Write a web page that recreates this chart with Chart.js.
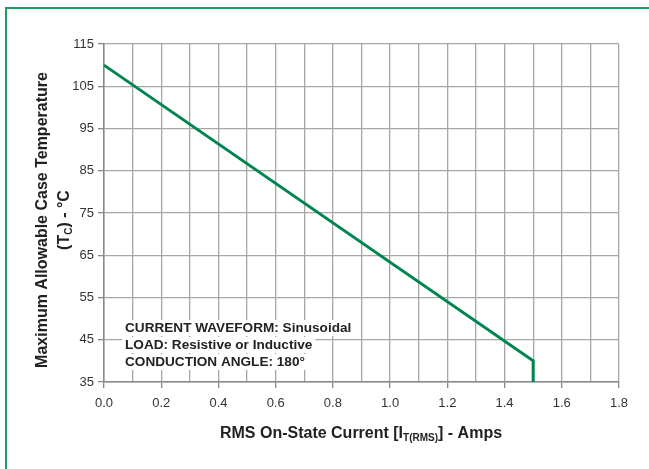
<!DOCTYPE html>
<html>
<head>
<meta charset="utf-8">
<script src="https://cdn.jsdelivr.net/npm/chart.js@4.4.1/dist/chart.umd.min.js"></script>
<style>
    body { margin: 0; background: #fff; }
    #wrap { position: relative; width: 649px; height: 469px; overflow: hidden; }
    #frame { position: absolute; left: 5px; top: 7px; width: 700px; height: 520px; border: 2px solid #1f9a62; }
    canvas { position: absolute; left: 0; top: 0; }
</style>
</head>
<body>
<div id="wrap">
    <div id="frame"></div>
    <canvas id="myChart" width="649" height="469"></canvas>
</div>
<script>
// curve data
const currentAmps = [0, 1.5, 1.5]
const caseTempC = [110, 40, 35]

const xMin = 0, xMax = 1.8, xStep = 0.1
const yMin = 35, yMax = 115, yStep = 10

const noteLines = [
    'CURRENT WAVEFORM: Sinusoidal',
    'LOAD: Resistive or Inductive',
    'CONDUCTION ANGLE: 180\u00b0'
]

const FONT = '"Liberation Sans", Arial, Helvetica, sans-serif'
const GREEN = '#00854f'
const GRID = '#a6a6a6'

const points = currentAmps.map((x, i) => ({ x: x, y: caseTempC[i] }))

// is this x tick one of the labelled ones (every 0.2)
function isMajor(v) {
    return Math.abs(Math.round(v * 10) % 2) === 0
}

const textPlugin = {
    id: 'textPlugin',
    afterDraw(chart) {
        const ctx = chart.ctx
        ctx.save()

        // note box text, with white behind each line
        ctx.font = 'bold 13.6px ' + FONT
        ctx.textBaseline = 'middle'
        ctx.textAlign = 'left'
        const noteY = [328, 345, 362]
        noteLines.forEach((t, i) => {
            const w = ctx.measureText(t).width
            ctx.fillStyle = '#fff'
            ctx.fillRect(122, noteY[i] - 8, w + 6, 16)
            ctx.fillStyle = '#222'
            ctx.fillText(t, 125, noteY[i])
        })

        // x axis title with subscript
        const big = 'bold 16px ' + FONT
        const small = 'bold 10px ' + FONT
        const p1 = 'RMS On-State Current [I', sub = 'T(RMS)', p2 = '] - Amps'
        ctx.font = big
        const w1 = ctx.measureText(p1).width, w3 = ctx.measureText(p2).width
        ctx.font = small
        const w2 = ctx.measureText(sub).width
        let x = 361 - (w1 + w2 + w3) / 2
        const ty = 438
        ctx.fillStyle = '#222'
        ctx.textBaseline = 'alphabetic'
        ctx.font = big
        ctx.fillText(p1, x, ty)
        x += w1
        ctx.font = small
        ctx.fillText(sub, x, ty + 3)
        x += w2
        ctx.font = big
        ctx.fillText(p2, x, ty)

        // y axis title, two rotated lines
        ctx.translate(43, 220)
        ctx.rotate(-Math.PI / 2)
        ctx.textAlign = 'center'
        ctx.textBaseline = 'middle'
        ctx.font = big
        ctx.fillText('Maximum Allowable Case Temperature', 0, 0)

        const q1 = '(T', qs = 'C', q2 = ') - \u00b0C'
        const a = ctx.measureText(q1).width, c = ctx.measureText(q2).width
        ctx.font = small
        const b = ctx.measureText(qs).width
        let qx = -(a + b + c) / 2
        ctx.textAlign = 'left'
        ctx.textBaseline = 'alphabetic'
        ctx.font = big
        ctx.fillText(q1, qx, 26)
        qx += a
        ctx.font = small
        ctx.fillText(qs, qx, 29)
        qx += b
        ctx.font = big
        ctx.fillText(q2, qx, 26)
        ctx.restore()
    }
}

const config = {
    type: 'scatter',
    data: {
        datasets: [{
            data: points,
            showLine: true,
            borderColor: GREEN,
            backgroundColor: GREEN,
            borderWidth: 3,
            pointRadius: 0,
            tension: 0,
            clip: false
        }]
    },
    options: {
        responsive: false,
        animation: false,
        devicePixelRatio: 1,
        layout: { padding: { left: 0, top: 44, right: 30, bottom: 0 } },
        plugins: {
            legend: { display: false },
            tooltip: { enabled: false }
        },
        scales: {
            x: {
                type: 'linear',
                min: xMin,
                max: xMax,
                // bottom of plot area sits at y=382
                afterFit(scale) { scale.height = 469 - 382 },
                ticks: {
                    stepSize: xStep,
                    color: '#333',
                    font: { family: FONT, size: 13 },
                    padding: 8,
                    maxRotation: 0,
                    autoSkip: false,
                    callback: v => isMajor(v) ? v.toFixed(1) : ''
                },
                grid: {
                    color: GRID,
                    lineWidth: 1.3,
                    tickLength: 6,
                    tickColor: c => isMajor(c.tick.value) ? '#888' : 'rgba(0,0,0,0)'
                },
                border: { color: '#888', width: 1.5 }
            },
            y: {
                min: yMin,
                max: yMax,
                afterFit(scale) { scale.width = 104 },
                ticks: {
                    stepSize: yStep,
                    color: '#333',
                    font: { family: FONT, size: 13 },
                    padding: 4
                },
                grid: {
                    color: GRID,
                    lineWidth: 1.3,
                    tickLength: 6,
                    tickColor: '#888'
                },
                border: { color: '#888', width: 1.5 }
            }
        }
    },
    plugins: [textPlugin]
}

let myChart = new Chart(document.getElementById('myChart'), config)
</script>
</body>
</html>
